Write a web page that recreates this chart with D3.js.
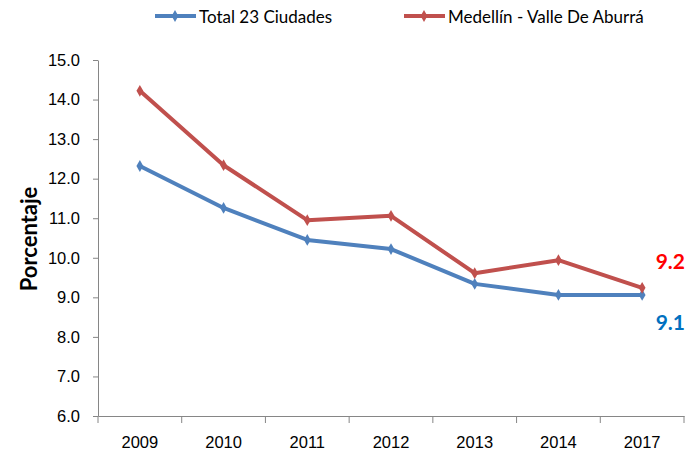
<!DOCTYPE html>
<html>
<head>
<meta charset="utf-8">
<script src="https://cdn.jsdelivr.net/npm/d3@7"></script>
<style>
  body { margin: 0; background: #fff; }
  svg { display: block; font-family: Lato, "Open Sans", sans-serif; }
</style>
</head>
<body>
<div id="chart"></div>
<script>
const years = ["2009", "2010", "2011", "2012", "2013", "2014", "2017"];
const total23 = [12.32, 11.26, 10.45, 10.22, 9.34, 9.06, 9.06];
const medellin = [14.22, 12.34, 10.95, 11.06, 9.61, 9.94, 9.24];
const seriesNames = ["Total 23 Ciudades", "Medellín - Valle De Aburrá"];
const yTicks = [6, 7, 8, 9, 10, 11, 12, 13, 14, 15];
const endLabels = ["9.2", "9.1"];

const width = 687, height = 451;
const colors = ["#4F81BD", "#C0504D"];
const axisColor = "#868686";

const svg = d3.select("#chart").append("svg")
    .attr("width", width)
    .attr("height", height);

const x = d3.scaleBand().domain(years).range([98, 684]);
const y = d3.scaleLinear().domain([6, 15]).range([416, 60]);

// y axis
const yAxis = svg.append("g")
    .attr("transform", "translate(98,0)")
    .call(d3.axisLeft(y).tickValues(yTicks).tickFormat(d3.format(".1f")).tickSize(5).tickSizeOuter(0).tickPadding(13));
yAxis.selectAll("text").attr("font-size", 16.5).attr("fill", "#000");
yAxis.selectAll("line, path").attr("stroke", axisColor);

// x axis, ticks at the category boundaries
const xAxis = svg.append("g")
    .attr("transform", "translate(0,416)")
    .call(d3.axisBottom(x).tickSize(0).tickPadding(20));
xAxis.selectAll("text").attr("font-size", 16.5).attr("fill", "#000");
xAxis.select(".domain").attr("stroke", axisColor);
const bounds = years.map(d => x(d)).concat([x.range()[1]]);
xAxis.selectAll(".bound").data(bounds).enter().append("line")
    .attr("class", "bound")
    .attr("x1", d => d).attr("x2", d => d)
    .attr("y1", 0).attr("y2", 7)
    .attr("stroke", axisColor);

// y axis title
svg.append("text")
    .attr("transform", "translate(37,239) rotate(-90)")
    .attr("text-anchor", "middle")
    .attr("font-size", 22)
    .attr("font-weight", "bold")
    .text("Porcentaje");

// series
const line = d3.line()
    .x((d, i) => x(years[i]) + x.bandwidth() / 2)
    .y(d => y(d));
const diamond = d3.symbol().type(d3.symbolDiamond).size(40);

[total23, medellin].forEach((vals, s) => {
    const g = svg.append("g");
    g.append("path")
        .datum(vals)
        .attr("fill", "none")
        .attr("stroke", colors[s])
        .attr("stroke-width", 4)
        .attr("stroke-linejoin", "round")
        .attr("d", line);
    g.selectAll("path.mark").data(vals).enter().append("path")
        .attr("class", "mark")
        .attr("d", diamond)
        .attr("fill", colors[s])
        .attr("transform", (d, i) => "translate(" + (x(years[i]) + x.bandwidth() / 2) + "," + y(d) + ")");
});

// end value labels
svg.append("text")
    .attr("x", 685).attr("y", y(medellin[6]) - 19)
    .attr("text-anchor", "end")
    .attr("font-size", 21).attr("font-weight", "bold")
    .attr("fill", "#FF0000")
    .text(endLabels[0]);
svg.append("text")
    .attr("x", 685).attr("y", y(total23[6]) + 35)
    .attr("text-anchor", "end")
    .attr("font-size", 21).attr("font-weight", "bold")
    .attr("fill", "#0070C0")
    .text(endLabels[1]);

// legend
const legendX = [155, 404];
seriesNames.forEach((name, s) => {
    const g = svg.append("g").attr("transform", "translate(" + legendX[s] + ",16)");
    g.append("line")
        .attr("x1", 0).attr("x2", 41)
        .attr("stroke", colors[s]).attr("stroke-width", 4);
    g.append("path")
        .attr("d", diamond)
        .attr("fill", colors[s])
        .attr("transform", "translate(20,0)");
    g.append("text")
        .attr("x", 44).attr("y", 7)
        .attr("font-size", 17)
        .text(name);
});
</script>
</body>
</html>
